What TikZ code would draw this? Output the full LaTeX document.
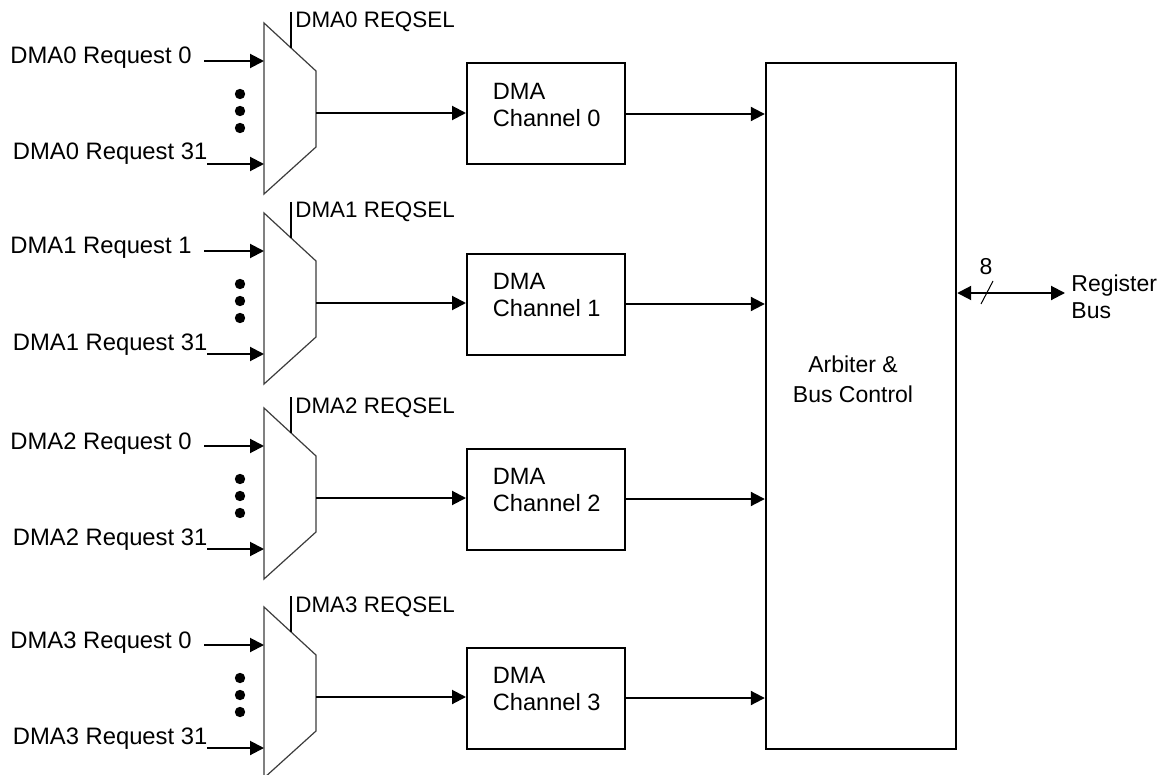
\documentclass[tikz,border=0pt]{standalone}
\usepackage{fontspec}
\setmainfont{Liberation Sans}
\usetikzlibrary{arrows.meta,calc}
\definecolor{ink}{HTML}{000000}
\definecolor{muxline}{HTML}{3C3C3C}
\tikzset{
    muxshape/.style={
        draw=muxline,
        fill=white,
        line width=0.6pt,
        line join=miter
    },
    chanbox/.style={
        rectangle,
        draw=ink,
        line width=1pt,
        minimum width=79pt,
        minimum height=50.5pt,
        inner sep=0pt
    },
    arbbox/.style={
        rectangle,
        draw=ink,
        line width=1.2pt,
        minimum width=95pt,
        minimum height=343pt,
        inner sep=0pt
    },
    sig/.style={
        -{Triangle[length=7pt,width=7pt]},
        draw=ink,
        line width=1pt
    },
    busarrow/.style={
        {Triangle[length=7pt,width=7pt]}-{Triangle[length=7pt,width=7pt]},
        draw=ink,
        line width=1pt
    },
    selline/.style={
        draw=ink,
        line width=0.7pt
    },
    dotfill/.style={
        fill=ink
    },
    reqlabel/.style={
        font=\fontsize{11.9}{14}\selectfont,
        text=ink,
        inner sep=0pt,
        anchor=base west
    },
    sellabel/.style={
        font=\fontsize{11.2}{13}\selectfont,
        text=ink,
        inner sep=0pt,
        anchor=base west
    },
    chantext/.style={
        font=\fontsize{11.8}{13.3}\selectfont,
        text=ink,
        inner sep=0pt,
        align=left,
        anchor=west
    },
    arbtext/.style={
        font=\fontsize{11.5}{15}\selectfont,
        text=ink,
        inner sep=0pt,
        align=center
    },
    bustext/.style={
        font=\fontsize{11.5}{13.5}\selectfont,
        text=ink,
        inner sep=0pt,
        align=left,
        anchor=west
    }
}

\begin{document}
\begin{tikzpicture}[x=0.5pt,y=-0.5pt]
    \useasboundingbox (0,0) rectangle (1166,775);

    % Arbiter block
    \node[arbbox] (arb) at (861,406) {};
    \node[arbtext] (arb-label) at (853,379) {Arbiter \&\\Bus Control};

    % One request selector and one channel per row
    \foreach \i/\ry/\first in {0/113/0, 1/303/1, 2/498/0, 3/697/0} {
        \pgfmathsetmacro{\my}{\ry-4}

        % Multiplexer body and its pins
        \draw[muxshape] (264,{\my-86}) -- (316,{\my-38}) -- (316,{\my+38}) -- (264,{\my+85}) -- cycle;
        \coordinate (mux-\i-out) at (316,\ry);
        \coordinate (mux-\i-in0) at (264,{\my-48});
        \coordinate (mux-\i-in31) at (264,{\my+55});
        \coordinate (mux-\i-sel) at (291,{\my-61});
        \coordinate (sel-\i-top) at (291,{\my-97});
        \coordinate (src-\i-0) at (204,{\my-48});
        \coordinate (src-\i-31) at (207,{\my+55});

        % Select input
        \draw[selline] (sel-\i-top) -- (mux-\i-sel);
        \node[sellabel] (sel-\i-label) at (295,{\my-81}) {DMA\i\ REQSEL};

        % Request inputs
        \node[reqlabel] (req-\i-0) at (10,{\my-45}) {DMA\i\ Request \first};
        \node[reqlabel] (req-\i-31) at (12.5,{\my+51}) {DMA\i\ Request 31};
        \draw[sig] (src-\i-0) -- (mux-\i-in0);
        \draw[sig] (src-\i-31) -- (mux-\i-in31);
        \foreach \dy in {-15,2,19} {
            \fill[dotfill] (240,{\my+\dy}) circle[radius=2.6pt];
        }

        % Channel
        \node[chanbox] (chan-\i) at (546,{\ry+1}) {};
        \node[chantext] (chan-\i-label) at ([shift={(26.5,-9)}]chan-\i.west) {DMA\\Channel \i};
        \draw[sig] (mux-\i-out) -- (mux-\i-out -| chan-\i.west);
        \draw[sig] (chan-\i.east) -- (chan-\i.east -| arb.west);
    }

    % Register bus
    \coordinate (bus-end) at (1065,293);
    \draw[busarrow] (arb.east |- bus-end) -- (bus-end);
    \draw[line width=0.5pt] (981,304) -- (993,281);
    \node[arbtext] (bus-width) at (986,266.5) {8};
    \node[bustext] (bus-label) at (1071,296.7) {Register\\Bus};

\end{tikzpicture}
\end{document}
